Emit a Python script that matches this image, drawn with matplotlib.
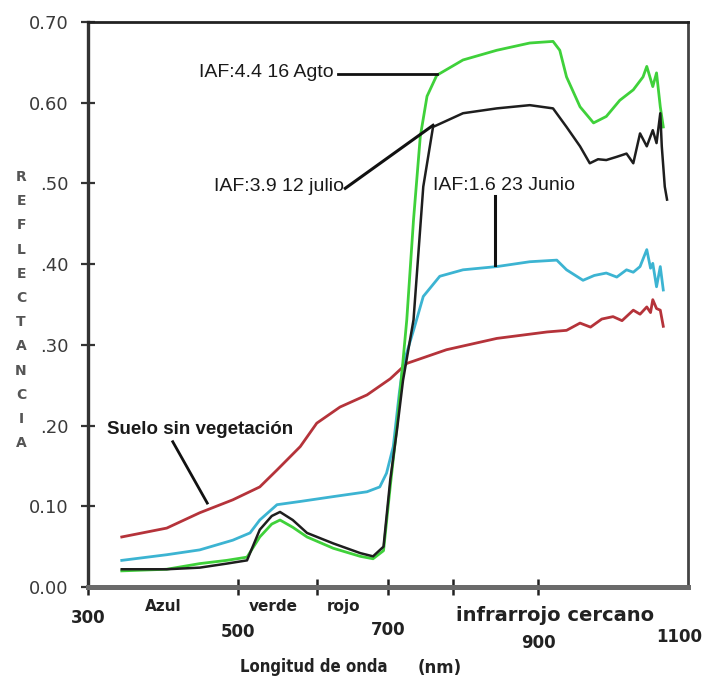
import matplotlib
matplotlib.use("Agg")
import matplotlib.pyplot as plt
import numpy as np

# --- spectral reflectance curves (nm, reflectance) ---
soil_wl = [345, 405, 449, 493, 529, 552, 583, 605, 636, 672, 703, 725, 778, 845,
           912, 938, 956, 970, 985, 1000, 1012, 1027, 1036, 1045, 1050, 1053, 1058,
           1063, 1067]
soil_refl = [0.062, 0.073, 0.092, 0.108, 0.124, 0.145, 0.174, 0.203, 0.223, 0.238,
             0.258, 0.277, 0.294, 0.308, 0.316, 0.318, 0.327, 0.322, 0.332, 0.335,
             0.330, 0.343, 0.338, 0.347, 0.340, 0.356, 0.345, 0.343, 0.323]

junio_wl = [345, 405, 449, 493, 516, 529, 552, 583, 627, 672, 689, 698, 707, 715,
            720, 734, 747, 769, 800, 845, 889, 925, 938, 960, 975, 991, 1005, 1018,
            1027, 1036, 1045, 1050, 1053, 1058, 1063, 1067]
junio_refl = [0.033, 0.040, 0.046, 0.058, 0.067, 0.083, 0.102, 0.106, 0.112, 0.118,
              0.124, 0.141, 0.174, 0.240, 0.275, 0.318, 0.360, 0.385, 0.393, 0.397,
              0.403, 0.405, 0.393, 0.380, 0.386, 0.389, 0.384, 0.393, 0.390, 0.397,
              0.418, 0.395, 0.401, 0.372, 0.397, 0.368]

julio_wl = [345, 405, 449, 485, 512, 529, 545, 556, 573, 592, 627, 663, 680, 694,
            703, 712, 720, 734, 747, 760, 800, 845, 889, 920, 938, 956, 969, 980,
            991, 1005, 1018, 1027, 1036, 1045, 1053, 1058, 1063, 1065, 1069, 1072]
julio_refl = [0.022, 0.022, 0.024, 0.029, 0.033, 0.071, 0.088, 0.093, 0.083, 0.067,
              0.054, 0.042, 0.038, 0.050, 0.133, 0.195, 0.256, 0.331, 0.496, 0.570,
              0.587, 0.593, 0.597, 0.593, 0.570, 0.546, 0.525, 0.530, 0.529, 0.533,
              0.537, 0.525, 0.562, 0.546, 0.566, 0.550, 0.587, 0.546, 0.496, 0.480]

agto_wl = [345, 405, 449, 485, 512, 529, 545, 556, 573, 592, 627, 663, 680, 694,
           703, 712, 725, 734, 743, 752, 765, 800, 845, 889, 920, 929, 938, 956,
           974, 991, 1009, 1027, 1040, 1045, 1053, 1058, 1063, 1067]
agto_refl = [0.020, 0.022, 0.029, 0.033, 0.037, 0.062, 0.078, 0.083, 0.074, 0.062,
             0.048, 0.038, 0.035, 0.045, 0.125, 0.200, 0.331, 0.455, 0.558, 0.608,
             0.634, 0.653, 0.665, 0.674, 0.676, 0.665, 0.632, 0.595, 0.575, 0.583,
             0.603, 0.616, 0.632, 0.645, 0.620, 0.637, 0.595, 0.570]

y_ticks = [0.0, 0.1, 0.2, 0.3, 0.4, 0.5, 0.6, 0.7]
y_ticklabels = ["0.00", "0.10", ".20", ".30", ".40", ".50", "0.60", "0.70"]
x_ticks = [300, 500, 605, 700, 787, 900]
x_labels = ["300", "500", "700", "900", "1100"]
x_label_pos = [300, 500, 700, 900, 1088]
x_label_y = [-0.038, -0.056, -0.053, -0.069, -0.062]
bands = ["Azul", "verde", "rojo"]
band_pos = [400, 547, 640]

fig = plt.figure(figsize=(7.08, 6.84), dpi=100)
ax = fig.add_axes([0.1243, 0.1418, 0.8475, 0.826])

ax.plot(soil_wl, soil_refl, color="#b5333a", lw=2.0, zorder=3)
ax.plot(junio_wl, junio_refl, color="#3cb4d2", lw=2.0, zorder=3)
ax.plot(agto_wl, agto_refl, color="#3fd13a", lw=2.0, zorder=3)
ax.plot(julio_wl, julio_refl, color="#1e1e1e", lw=1.8, zorder=4)

ax.set_xlim(300, 1100)
ax.set_ylim(0, 0.70)

ax.set_yticks(y_ticks)
ax.set_yticklabels(y_ticklabels, fontsize=13, color="#3a3a3a", fontweight="medium")
ax.set_xticks(x_ticks)
ax.set_xticklabels([])
ax.tick_params(axis="y", direction="inout", length=10, width=1.6, pad=9, color="#333333")
ax.tick_params(axis="x", direction="inout", length=11, width=1.8, color="#222222")

ax.spines["left"].set_linewidth(2.4)
ax.spines["left"].set_color("#333333")
ax.spines["bottom"].set_linewidth(3.6)
ax.spines["bottom"].set_color("#6a6a6a")
ax.spines["top"].set_linewidth(2.0)
ax.spines["top"].set_color("#222222")
ax.spines["right"].set_linewidth(2.0)
ax.spines["right"].set_color("#444444")

# x tick labels, staggered as in the original
for lab, xp, yp in zip(x_labels, x_label_pos, x_label_y):
    ax.text(xp, yp, lab, ha="center", va="center", fontsize=12,
            fontweight="bold", color="#222222", clip_on=False)

for lab, xp in zip(bands, band_pos):
    ax.text(xp, -0.024, lab, ha="center", va="center", fontsize=11,
            fontweight="bold", color="#222222", clip_on=False)
ax.text(923, -0.035, "infrarrojo cercano", ha="center", va="center",
        fontsize=14, fontweight="bold", color="#222222", clip_on=False)

ax.text(601, -0.099, "Longitud de onda", ha="center", va="center", fontsize=12,
        fontweight="bold", color="#222222", fontstretch="condensed", clip_on=False)
ax.text(769, -0.100, "(nm)", ha="center", va="center", fontsize=12,
        fontweight="bold", color="#222222", clip_on=False)

# vertical y label, one letter per line
for i, ch in enumerate("REFLECTANCIA"):
    fig.text(21 / 708, 1 - (177 + i * 24.2) / 684, ch, ha="center", va="center",
             fontsize=10, fontweight="bold", color="#555555")

# curve annotations
ann_font = dict(fontsize=14, family="Liberation Sans", color="#1a1a1a")
ax.text(627, 0.638, "IAF:4.4 16 Agto", ha="right", va="center", **ann_font)
ax.plot([633, 765], [0.636, 0.636], color="#111111", lw=2.0, zorder=5)

ax.text(641, 0.496, "IAF:3.9 12 julio", ha="right", va="center", **ann_font)
ax.plot([643, 760], [0.494, 0.572], color="#111111", lw=2.2, zorder=5)

ax.text(760, 0.497, "IAF:1.6 23 Junio", ha="left", va="center", **ann_font)
ax.plot([843, 843], [0.485, 0.399], color="#111111", lw=2.2, zorder=5)

ax.text(449, 0.195, "Suelo sin vegetación", ha="center", va="center",
        fontsize=13.5, fontweight="bold", family="Liberation Sans", color="#1a1a1a")
ax.plot([413, 459], [0.180, 0.104], color="#111111", lw=2.0, zorder=5)

fig.savefig("out.png", dpi=100)
